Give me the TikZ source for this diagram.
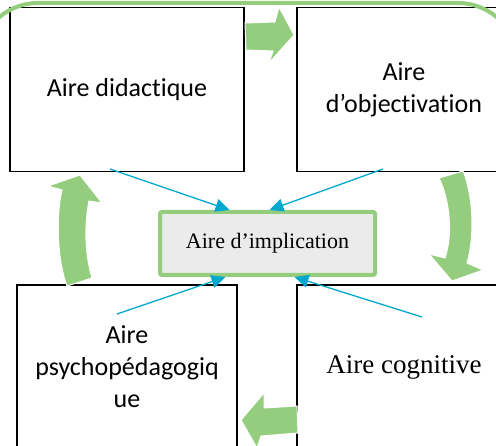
\documentclass[tikz,border=0pt]{standalone}
\usepackage{fontspec}
\newfontfamily\carlitofont[Ligatures={NoCommon,NoDiscretionary}]{Carlito}
\newfontfamily\seriffont{Liberation Serif}
\usepackage{tikz}
\usetikzlibrary{arrows.meta,calc}
\definecolor{airegreen}{RGB}{148,205,125}
\definecolor{aireblue}{RGB}{0,168,206}
\definecolor{airegray}{RGB}{235,235,235}

\begin{document}
\begin{tikzpicture}[
  x=1pt, y=-1pt,
  area/.style={draw, line width=1.5pt, minimum width=#1, minimum height=164pt, align=center, inner sep=2pt,
    font=\carlitofont\fontsize{26}{32}\selectfont},
  impl/.style={draw=airegreen, fill=airegray, line width=4pt, rounded corners=2pt,
    minimum width=215pt, minimum height=63pt, font=\seriffont\fontsize{22}{26}\selectfont},
  link/.style={draw=aireblue, line width=1.3pt, -{Triangle[length=14pt,width=13pt]}},
  flow/.style={fill=airegreen, draw=white, line width=1pt}
]
\useasboundingbox (0,0) rectangle (496,446);
\clip (0,0) rectangle (496,446);

% the four areas
\node[area=234pt] (didact) at (127,89.5) {Aire didactique};
\node[area=214pt] (object) at (404,89.5) {Aire\\d’objectivation};
\node[area=220pt] (psycho) at (127,367) {Aire\\psychopédagogiq\\ue};
\node[area=214pt, font=\seriffont\fontsize{27}{32}\selectfont] (cogn) at (404,367) {Aire cognitive};

% frame
\draw[airegreen, line width=4pt, rounded corners=60pt] (-22,500) |- (518,3) -- (518,500);

% centre
\node[impl] (impl) at (267.5,243.5) {Aire d’implication};

\coordinate (didactfoot) at (110,169);
\coordinate (objectfoot) at (383,169);
\coordinate (psychohead) at (117,314);
\coordinate (cognhead) at (422,317);
\draw[link] (didactfoot) -- ($(impl.north)+(-38,0)$);
\draw[link] (objectfoot) -- ($(impl.north)+(2,0)$);
\draw[link] (psychohead) -- ($(impl.south)+(-42,0)$);
\draw[link] (cognhead) -- ($(impl.south)+(27,0)$);

% cycle arrows
\draw[flow] (245,23) -- (275,22) -- (279,7) -- (294,35) -- (269,63) -- (273,51) -- (246,50) -- cycle;
\draw[flow] (439,178) .. controls (450,200) and (453,235) .. (445,258) -- (429,254) -- (452,281)
  -- (483,270) -- (467,263) .. controls (475,235) and (473,195) .. (463,171) -- cycle;
\draw[flow] (297,406) -- (264,408) -- (264,393) -- (241,420) -- (257,448) -- (261,436) -- (298,433) -- cycle;
\draw[flow] (92,278) .. controls (85,255) and (84,225) .. (89,201) -- (102,203) -- (80,175)
  -- (48,186) -- (62,190) .. controls (56,215) and (57,260) .. (67,286) -- cycle;

\end{tikzpicture}
\end{document}
